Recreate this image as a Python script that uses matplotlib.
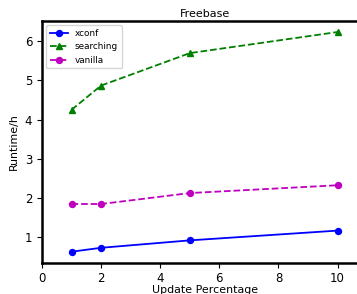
import matplotlib
matplotlib.use('Agg')
import matplotlib.pyplot as plt

# Porcentaje de actualizacion y tiempos (horas)
update_pct = [1, 2, 5, 10]
xconf = [0.62, 0.72, 0.91, 1.16]
searching = [4.25, 4.87, 5.70, 6.24]
vanilla = [1.84, 1.84, 2.12, 2.32]

fig = plt.figure(figsize=(3.57, 2.94), dpi=100)
ax = fig.add_axes([0.1176, 0.1065, 0.915, 0.822])

ax.plot(update_pct, xconf, color='b', marker='o', linestyle='-', linewidth=1.3, markersize=4.3, label='xconf')
ax.plot(update_pct, searching, color='g', marker='^', linestyle='--', linewidth=1.3, markersize=4.5, label='searching')
ax.plot(update_pct, vanilla, color='m', marker='o', linestyle='--', linewidth=1.3, markersize=4.3, label='vanilla')

ax.set_xlim(0, 11.05)
ax.set_title('Freebase', fontsize=8, pad=3)
ax.set_xlabel('Update Percentage', fontsize=7.9, labelpad=0)
ax.set_ylabel('Runtime/h', fontsize=7.9)
ax.tick_params(labelsize=8.5)
for s in ax.spines.values():
    s.set_linewidth(1.8)

ax.legend(loc='upper left', fontsize=6.4)

fig.savefig('out.png', dpi=100)
